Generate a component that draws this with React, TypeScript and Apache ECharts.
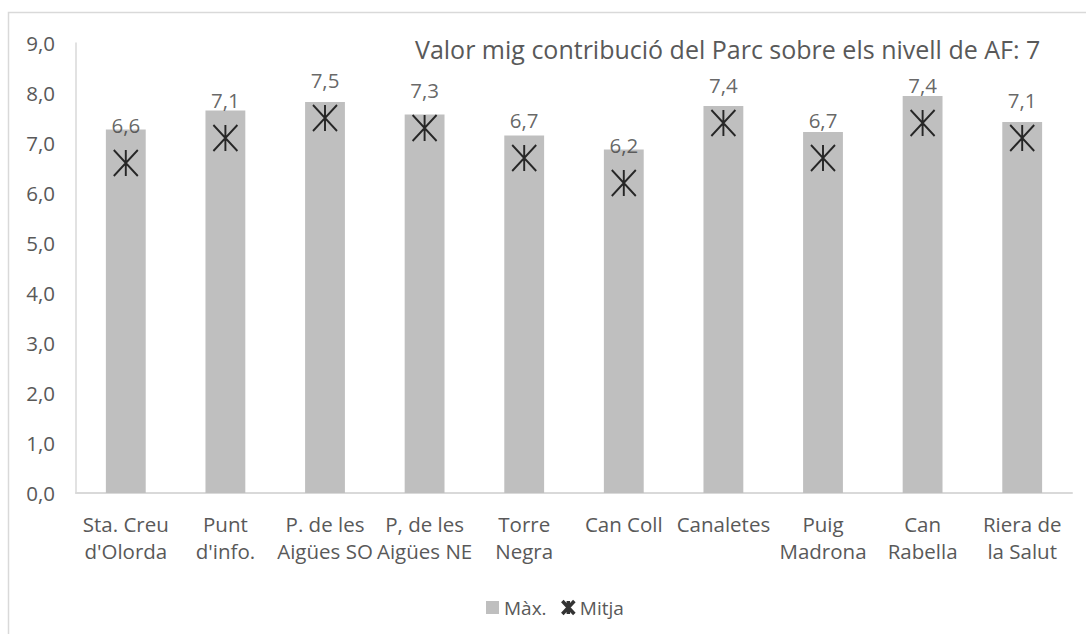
import React, { useEffect, useRef } from "react";
import * as echarts from "echarts";

const categories = [
  "Sta. Creu\nd'Olorda",
  "Punt\nd'info.",
  "P. de les\nAigües SO",
  "P, de les\nAigües NE",
  "Torre\nNegra",
  "Can Coll",
  "Canaletes",
  "Puig\nMadrona",
  "Can\nRabella",
  "Riera de\nla Salut",
];
const maxValues = [7.27, 7.65, 7.82, 7.57, 7.15, 6.87, 7.74, 7.22, 7.94, 7.42];
const meanValues = [6.6, 7.1, 7.5, 7.3, 6.7, 6.2, 7.4, 6.7, 7.4, 7.1];
const yTicks = { min: 0, max: 9, interval: 1 };
const titleText = "Valor mig contribució del Parc sobre els nivell de AF: 7";
const seriesNames = ["Màx.", "Mitja"];

const FONT = "Open Sans";
const STAR = "path://M0,0L24,26M24,0L0,26M12,0L12,26";

export default function App() {
  const ref = useRef<HTMLDivElement>(null);
  useEffect(() => {
    document.body.style.margin = "0";
    const chart = echarts.init(ref.current!, null, { renderer: "svg" });
    chart.setOption({
      animation: false,
      backgroundColor: "#ffffff",
      textStyle: { fontFamily: FONT },
      title: {
        text: titleText,
        left: 410,
        top: 31,
        textStyle: { fontFamily: FONT, fontSize: 25, fontWeight: "normal", color: "#595959" },
      },
      graphic: [
        {
          type: "rect",
          shape: { x: 8.5, y: 12.5, width: 1200, height: 800 },
          style: { fill: "none", stroke: "#d9d9d9", lineWidth: 1.5 },
          silent: true,
        },
      ],
      legend: {
        left: 481,
        top: 593,
        itemWidth: 13,
        itemHeight: 13,
        itemGap: 14,
        textStyle: { fontFamily: FONT, fontSize: 19, color: "#595959" },
        data: [
          { name: seriesNames[0], icon: "rect" },
          {
            name: seriesNames[1],
            icon: STAR,
            itemStyle: { color: "transparent", borderColor: "#000", borderWidth: 3.5 },
          },
        ],
      },
      grid: { left: 76, right: 14, top: 43, bottom: 141, containLabel: false },
      xAxis: {
        type: "category",
        data: categories,
        axisLine: { show: true, lineStyle: { color: "#d9d9d9", width: 2 } },
        axisTick: { show: false },
        axisLabel: {
          interval: 0,
          margin: 17,
          fontFamily: FONT,
          fontSize: 20.5,
          lineHeight: 27,
          color: "#595959",
        },
      },
      yAxis: {
        type: "value",
        min: yTicks.min,
        max: yTicks.max,
        interval: yTicks.interval,
        axisLine: { show: true, lineStyle: { color: "#d9d9d9", width: 1.5 } },
        axisTick: { show: false },
        splitLine: { show: false },
        axisLabel: {
          margin: 21,
          fontFamily: FONT,
          fontSize: 20.5,
          color: "#595959",
          formatter: (v: number) => v.toFixed(1).replace(".", ","),
        },
      },
      series: [
        {
          name: seriesNames[0],
          type: "bar",
          data: maxValues,
          barWidth: "40%",
          itemStyle: { color: "#bfbfbf" },
        },
        {
          name: seriesNames[1],
          type: "scatter",
          data: meanValues,
          symbol: STAR,
          symbolSize: [24, 26],
          itemStyle: { color: "transparent", borderColor: "#000", borderWidth: 2 },
          label: {
            show: true,
            position: "top",
            distance: 13,
            fontFamily: FONT,
            fontSize: 20.5,
            color: "#404040",
            formatter: (p: any) => Number(p.value).toFixed(1).replace(".", ","),
          },
          z: 3,
        },
      ],
    });
    return () => chart.dispose();
  }, []);
  return <div ref={ref} style={{ width: 1086, height: 634 }} />;
}
